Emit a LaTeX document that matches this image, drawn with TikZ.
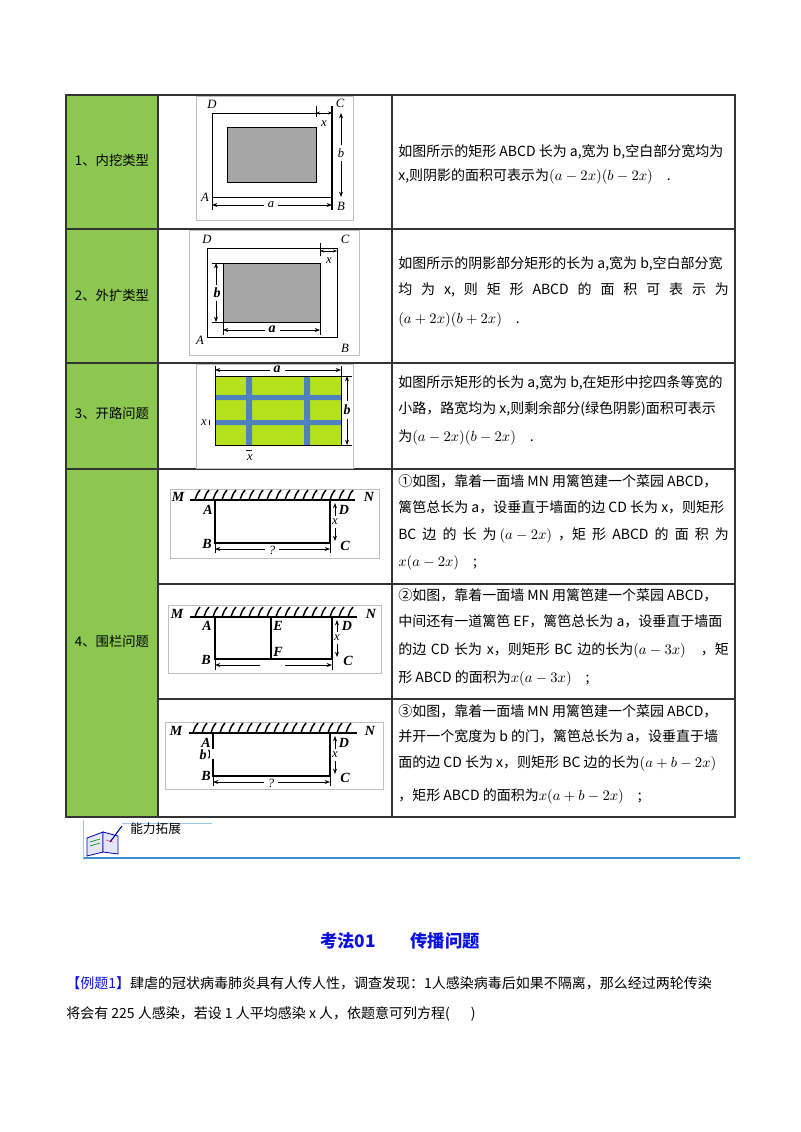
\documentclass[tikz,border=0pt]{standalone}
\usepackage{fontspec}
\setmainfont{Liberation Serif}
\newfontfamily\cjk{Noto Sans CJK SC}
\usetikzlibrary{arrows.meta}
\definecolor{tgreen}{HTML}{8CC751}
\definecolor{lime}{HTML}{B4E01C}
\definecolor{road}{HTML}{4F81BD}
\definecolor{hblue}{HTML}{0A10E0}
\definecolor{lblue}{HTML}{3A8FD8}
\tikzset{
 txt/.style={anchor=west,inner sep=0,font=\cjk\fontsize{10.5}{12}\selectfont},
 jtxt/.style={txt,text width=248pt},
 lab/.style={inner sep=0,font=\itshape\fontsize{9.5}{10}\selectfont},
 blab/.style={inner sep=0,font=\bfseries\itshape\fontsize{10.5}{11}\selectfont},
 grid/.style={line width=0.8pt,draw=black!80},
 frame/.style={draw=black!25,line width=0.6pt},
 dim/.style={{Stealth[length=4pt]}-{Stealth[length=4pt]},line width=0.5pt},
 fen/.style={line width=2pt},
 cell/.style={inner sep=0,font=\cjk\fontsize{10}{11}\selectfont}
}
\begin{document}
\begin{tikzpicture}[x=0.75pt,y=-0.75pt]
\useasboundingbox (0,0) rectangle (800,1132);
\fill[white] (0,0) rectangle (800,1132);
% table
\fill[tgreen] (66,95) rectangle (158,817);
\draw[grid] (66,95) rectangle (735,817);
\draw[grid] (158,95)--(158,817) (392,95)--(392,817);
\draw[grid] (66,229)--(735,229) (66,363)--(735,363) (66,469)--(735,469);
\draw[grid] (158,584)--(735,584) (158,699)--(735,699);
\node[cell] (c1) at (112,160) {1、内挖类型};
\node[cell] (c2) at (112,295) {2、外扩类型};
\node[cell] (c3) at (112,413) {3、开路问题};
\node[cell] (c4) at (112,641) {4、围栏问题};
% fig1
\draw[frame] (196,96) rectangle (353,220);
\draw[line width=0.7pt] (212,113) rectangle (332,197);
\fill[black!35,draw=black,line width=0.5pt] (227,127) rectangle (316,182);
\draw[line width=1.2pt] (332,106)--(332,210);
\draw[line width=0.5pt] (316,106)--(316,117) (212,197)--(212,210);
\draw[dim] (212,205)--(332,205);
\node[lab,fill=white,inner xsep=3pt] (a1) at (271,205) {a};
\draw[dim] (341,113)--(341,197);
\node[lab,fill=white,inner ysep=3pt] (b1) at (341,153) {b};
\draw[{Stealth[length=3pt]}-{Stealth[length=3pt]},line width=0.5pt] (316,113)--(332,113);
\node[lab] (x1) at (324,124) {x};
\node[lab] (D1) at (212,104) {D};
\node[lab] (C1) at (340,103) {C};
\node[lab] (A1) at (205,197) {A};
\node[lab] (B1) at (341,206) {B};
% fig2
\draw[frame] (189,230) rectangle (359,355);
\draw[line width=0.6pt] (207,248) rectangle (337,337);
\fill[black!35,draw=black,line width=0.5pt] (223,263) rectangle (320,322);
\draw[line width=0.5pt] (320,243)--(320,256) (212,263)--(223,263) (212,322)--(223,322) (223,322)--(223,335) (320,322)--(320,335);
\draw[{Stealth[length=3pt]}-{Stealth[length=3pt]},line width=0.5pt] (320,251)--(337,251);
\draw[dim] (216,263)--(216,322);
\node[blab,fill=white,inner ysep=2pt] (b2) at (217,293) {b};
\draw[dim] (223,330)--(320,330);
\node[blab,fill=white,inner xsep=3pt] (a2) at (272,329) {a};
\node[lab] (x2) at (329,261) {x};
\node[lab] (D2) at (207,239) {D};
\node[lab] (C2) at (345,239) {C};
\node[lab] (A2) at (200,340) {A};
\node[lab] (B2) at (345,348) {B};
% fig3
\draw[frame] (196,364) rectangle (353,468);
\fill[lime] (215,376) rectangle (341,445);
\fill[road] (246,376) rectangle (252,445) (304,376) rectangle (310,445);
\fill[road] (215,395) rectangle (341,400) (215,420) rectangle (341,425);
\draw[line width=0.5pt] (215,376) rectangle (341,445);
\draw[line width=0.5pt] (215,366)--(215,376) (341,366)--(341,376) (341,376)--(352,376) (341,445)--(352,445);
\draw[dim] (215,370)--(341,370);
\node[blab,fill=white,inner xsep=3pt] (a3) at (277,369) {a};
\draw[dim] (347,376)--(347,445);
\node[blab,fill=white,inner ysep=3pt] (b3) at (347,410) {b};
\node[lab] (x3a) at (204,423) {x};
\draw[line width=0.4pt] (209,420)--(209,425);
\node[lab] (x3b) at (250,458) {x};
\draw[line width=0.4pt] (246,450)--(252,450);
% fig4a
\draw[frame] (170,489) rectangle (379,558);
\draw[line width=1.6pt] (190,500)--(355,500);
\foreach \i in {195,204,...,350} \draw[line width=1.1pt] (\i,500)..controls (\i+2,494)..(\i+5,490);
\draw[fen] (215,500)--(215,543)--(330,543)--(330,500);
\draw[line width=0.5pt] (215,543)--(215,553) (330,543)--(330,553);
\draw[dim] (215,549)--(330,549);
\node[lab,fill=white,inner xsep=3pt] (q1) at (272,550) {?};
\draw[dim] (335,503)--(335,541);
\node[lab,fill=white,inner ysep=2pt] (xa) at (335,522) {x};
\node[blab] (Ma) at (178,497) {M};
\node[blab] (Na) at (369,497) {N};
\node[blab] (Aa) at (208,510) {A};
\node[blab] (Da) at (344,510) {D};
\node[blab] (Ba) at (207,544) {B};
\node[blab] (Ca) at (345,546) {C};
% fig4b
\draw[frame] (168,605) rectangle (381,673);
\draw[line width=1.6pt] (190,617)--(357,617);
\foreach \i in {195,204,...,352} \draw[line width=1.1pt] (\i,617)..controls (\i+2,611)..(\i+5,607);
\draw[fen] (215,617)--(215,659)--(332,659)--(332,617);
\draw[fen] (271,617)--(271,659);
\draw[line width=0.5pt] (215,659)--(215,670) (332,659)--(332,670);
\draw[-{Stealth[length=4pt]},line width=0.5pt] (260,665)--(215,665);
\draw[-{Stealth[length=4pt]},line width=0.5pt] (285,665)--(332,665);
\draw[dim] (337,620)--(337,657);
\node[lab,fill=white,inner ysep=2pt] (xb) at (337,638) {x};
\node[blab] (Mb) at (177,614) {M};
\node[blab] (Nb) at (371,614) {N};
\node[blab] (Ab) at (207,626) {A};
\node[blab] (Eb) at (278,626) {E};
\node[blab] (Db) at (347,626) {D};
\node[blab] (Fb) at (278,652) {F};
\node[blab] (Bb) at (206,660) {B};
\node[blab] (Cb) at (348,661) {C};
% fig4c
\draw[frame] (165,722) rectangle (383,789);
\draw[line width=1.6pt] (189,733)--(357,733);
\foreach \i in {193,202,...,352} \draw[line width=1.1pt] (\i,733)..controls (\i+2,727)..(\i+5,723);
\draw[fen] (213,733)--(213,749);
\draw[fen] (213,759)--(213,776)--(330,776)--(330,733);
\draw[line width=0.5pt] (213,776)--(213,786) (330,776)--(330,786);
\draw[dim] (213,782)--(330,782);
\node[lab,fill=white,inner xsep=3pt] (q3) at (271,783) {?};
\draw[dim] (335,736)--(335,774);
\node[lab,fill=white,inner ysep=2pt] (xc) at (335,755) {x};
\draw[{Stealth[length=2pt]}-{Stealth[length=2pt]},line width=0.4pt] (209,749)--(209,759);
\node[blab] (bc) at (203,755) {b};
\node[blab] (Mc) at (176,731) {M};
\node[blab] (Nc) at (370,731) {N};
\node[blab] (Ac) at (206,743) {A};
\node[blab] (Dc) at (344,743) {D};
\node[blab] (Bc) at (206,776) {B};
\node[blab] (Cc) at (345,778) {C};
% texts
\node[txt] (t11) at (398,152) {如图所示的矩形 ABCD 长为 a,宽为 b,空白部分宽均为};
\node[txt] (t12) at (398,176) {x,则阴影的面积可表示为$(a-2x)(b-2x)$\quad .};
\node[txt] (t21) at (398,264) {如图所示的阴影部分矩形的长为 a,宽为 b,空白部分宽};
\node[jtxt] (t22) at (398,290) {均\hfill 为\hfill x,\hfill 则\hfill 矩\hfill 形\hfill ABCD\hfill 的\hfill 面\hfill 积\hfill 可\hfill 表\hfill 示\hfill 为};
\node[txt] (t23) at (398,320) {$(a+2x)(b+2x)$\quad .};
\node[txt] (t31) at (398,383) {如图所示矩形的长为 a,宽为 b,在矩形中挖四条等宽的};
\node[txt] (t32) at (398,409) {小路，路宽均为 x,则剩余部分(绿色阴影)面积可表示};
\node[txt] (t33) at (398,437) {为$(a-2x)(b-2x)$\quad .};
\node[txt] (t41) at (398,481) {①如图，靠着一面墙 MN 用篱笆建一个菜园 ABCD，};
\node[txt] (t42) at (398,507) {篱笆总长为 a，设垂直于墙面的边 CD 长为 x，则矩形};
\node[jtxt] (t43) at (398,535) {BC\hfill 边\hfill 的\hfill 长\hfill 为\hspace{0.2em}$(a-2x)$\hfill ，矩\hfill 形\hfill ABCD\hfill 的\hfill 面\hfill 积\hfill 为};
\node[txt] (t44) at (398,563) {$x(a-2x)$\quad ;};
\node[txt] (t51) at (398,595) {②如图，靠着一面墙 MN 用篱笆建一个菜园 ABCD，};
\node[txt] (t52) at (398,621) {中间还有一道篱笆 EF，篱笆总长为 a，设垂直于墙面};
\node[jtxt] (t53) at (398,650) {的边 CD 长为 x，则矩形 BC 边的长为$(a-3x)$\hfill ，矩};
\node[txt] (t54) at (398,678) {形 ABCD 的面积为$x(a-3x)$\quad ;};
\node[txt] (t61) at (398,711) {③如图，靠着一面墙 MN 用篱笆建一个菜园 ABCD，};
\node[txt] (t62) at (398,736) {并开一个宽度为 b 的门，篱笆总长为 a，设垂直于墙};
\node[txt] (t63) at (398,763) {面的边 CD 长为 x，则矩形 BC 边的长为$(a+b-2x)$};
\node[txt] (t64) at (398,796) {，矩形 ABCD 的面积为$x(a+b-2x)$\quad ;};
% ability icon
\draw[lblue,line width=1.2pt] (83,858)--(740,858);
\draw[lblue!50,line width=0.5pt] (83,820)--(83,860) (122,823)--(212,823);
\fill[blue!10,draw=blue!70!black,line width=0.6pt] (87,838)--(103,832)--(103,852)--(87,856)--cycle;
\fill[blue!10,draw=blue!70!black,line width=0.6pt] (103,832)--(118,836)--(118,854)--(103,852)--cycle;
\draw[green!60!black,line width=0.5pt] (90,842)--(100,839) (90,846)--(100,843);
\draw[red!70,line width=0.5pt] (106,840)--(113,842);
\draw[blue!70!black,line width=0.8pt] (110,842)--(122,826);
\node[anchor=west,inner sep=0,font=\cjk\fontsize{9.5}{10}\selectfont] (nl) at (130,829) {能力拓展};
% heading
\node[inner sep=0,font=\cjk\bfseries\fontsize{13}{14}\selectfont,text=hblue] (hd) at (400,941) {考法01\hspace{2em}传播问题};
\node[txt] (e1) at (66,983) {\textcolor{hblue}{【例题1】}肆虐的冠状病毒肺炎具有人传人性，调查发现：1人感染病毒后如果不隔离，那么经过两轮传染};
\node[txt] (e2) at (66,1014) {将会有 225 人感染，若设 1 人平均感染 x 人，依题意可列方程(\hspace{1.5em})};
\end{tikzpicture}
\end{document}
